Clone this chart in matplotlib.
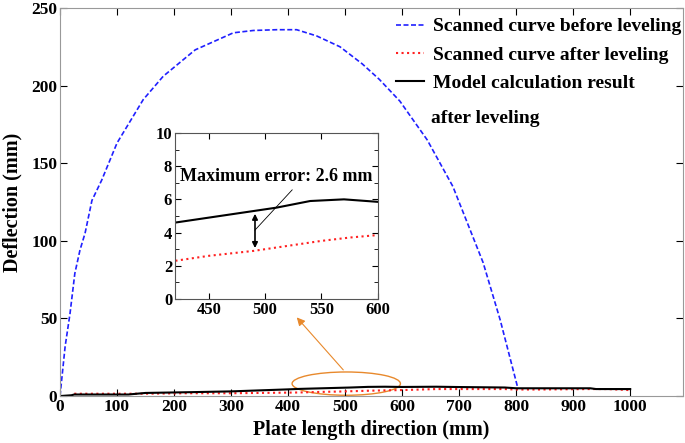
import numpy as np
import matplotlib.pyplot as plt
from matplotlib.patches import Ellipse

plt.rcParams['font.family'] = ['Liberation Serif', 'DejaVu Serif']
plt.rcParams['font.weight'] = 'bold'

# scanned curve before leveling
x_before = [0, 9, 17.5, 26, 35, 44, 56, 73, 100, 146, 181, 237, 304, 339, 380, 415,
            450, 491, 530, 560, 596, 619, 644, 689, 742, 772, 803]
y_before = [0, 32, 53, 79, 94, 105, 126, 139, 163, 191, 206, 223, 234, 235.5, 236, 236,
            232, 225, 214, 204, 190, 178, 165, 135, 86, 49, 5]

# scanned curve after leveling
x_after = [25, 100, 150, 220, 300, 350, 400, 420, 450, 490, 520, 550, 575, 600, 660, 780, 800, 840, 930, 960, 1000]
y_after = [1.5, 1.5, 1.5, 1.8, 1.8, 2.0, 2.2, 2.3, 2.6, 2.9, 3.2, 3.5, 3.7, 3.85, 4.5, 4.5, 4.2, 4.2, 4.5, 4.5, 3.8]

# model calculation result after leveling
x_model = [0, 20, 25, 120, 150, 230, 300, 400, 420, 450, 490, 510, 540, 570, 600, 660, 700, 780, 800, 930, 940, 1000]
y_model = [0, 0.5, 1, 1, 2, 2.5, 3, 4.3, 4.6, 4.9, 5.3, 5.5, 5.9, 6.0, 5.85, 6.0, 5.8, 5.5, 5.0, 5.0, 4.5, 4.5]

fig = plt.figure(figsize=(6.85, 4.43), dpi=100)
ax = fig.add_axes([0.0876, 0.106, 0.909, 0.876])

ax.plot(x_before, y_before, '--', color='#2020ff', lw=1.2, dashes=(3, 1.5), label='Scanned curve before leveling')
ax.plot(x_after, y_after, ':', color='#ff2020', lw=1.5, label='Scanned curve after leveling')
ax.plot(x_model, y_model, '-', color='black', lw=1.5, label='Model calculation result')

ax.set_xlim(0, 1092)
ax.set_ylim(0, 250)
ax.set_xticks(np.arange(0, 1001, 100))
ax.set_yticks(np.arange(0, 251, 50))
ax.tick_params(direction='in', top=True, right=True, labelsize=12.5, length=5, pad=2)
for s in ax.spines.values():
    s.set_color('#999999')
ax.set_xlabel('Plate length direction (mm)', fontsize=14.5, fontweight='bold', labelpad=4)
ax.set_ylabel('Deflection (mm)', fontsize=14.5, fontweight='bold', labelpad=6)
for lab in ax.get_xticklabels() + ax.get_yticklabels():
    lab.set_fontweight('bold')

leg = ax.legend(loc='upper right', bbox_to_anchor=(1.013, 1.0), frameon=False,
                handlelength=1.45, handletextpad=0.45,
                borderaxespad=0.0, borderpad=0.5, labelspacing=0.55,
                prop={'weight': 'bold', 'size': 14})
# second line of the third legend entry
ax.text(651, 179, 'after leveling', fontsize=14, fontweight='bold', va='center', ha='left')

# highlight ellipse and arrow to inset
ax.add_patch(Ellipse((502, 8), 190, 15, fill=False, edgecolor='#e8892c', lw=1.0))
ax.annotate('', xy=(412, 52), xytext=(500, 15.5),
            arrowprops=dict(arrowstyle='-|>', color='#e8892c', lw=0.8, mutation_scale=12))

# inset zoom
axin = fig.add_axes([0.2555, 0.325, 0.296, 0.375])
axin.plot(x_after, y_after, ':', color='#ff2020', lw=1.5)
axin.plot(x_model, y_model, '-', color='black', lw=1.5)
axin.set_xlim(420, 600)
axin.set_ylim(0, 10)
axin.set_xticks([450, 500, 550, 600])
axin.set_yticks(np.arange(0, 11, 2))
axin.set_yticks(np.arange(1, 10, 2), minor=True)
axin.tick_params(direction='in', top=True, right=True, labelsize=12, length=4, pad=2)
axin.tick_params(which='minor', direction='in', right=True, length=3)
for s in axin.spines.values():
    s.set_color('#555555')
for lab in axin.get_xticklabels() + axin.get_yticklabels():
    lab.set_fontweight('bold')
axin.annotate('', xy=(491, 5.3), xytext=(491, 2.9),
              arrowprops=dict(arrowstyle='<|-|>', color='black', lw=1.2, mutation_scale=8))
axin.plot([491, 524], [4.15, 6.57], color='black', lw=0.6)
axin.text(424, 7.35, 'Maximum error: 2.6 mm', fontsize=13, fontweight='bold', va='center')

fig.savefig('out.png', dpi=100)
